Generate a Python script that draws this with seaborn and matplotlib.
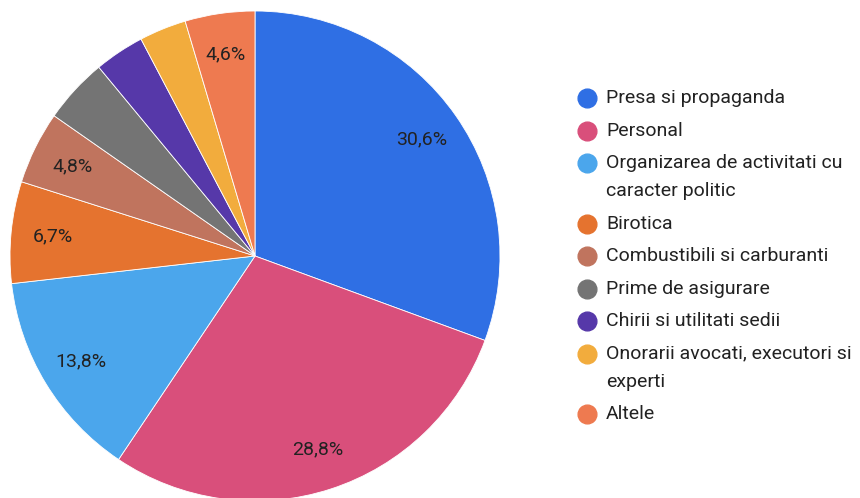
import matplotlib.pyplot as plt
import seaborn as sns

# categories and shares (percent), clockwise from 12 o'clock
categories = [
    "Presa si propaganda",
    "Personal",
    "Organizarea de activitati cu\ncaracter politic",
    "Birotica",
    "Combustibili si carburanti",
    "Prime de asigurare",
    "Chirii si utilitati sedii",
    "Onorarii avocati, executori si\nexperti",
    "Altele",
]
shares = [30.6, 28.8, 13.8, 6.7, 4.8, 4.3, 3.3, 3.1, 4.6]
colors = ["#2f6fe4", "#d94f7b", "#4ba6ec", "#e5732f", "#c0745e",
          "#747474", "#5638a9", "#f2ac3d", "#ee7a50"]

sns.set_theme(style="white")
plt.rcParams["font.family"] = ["Roboto", "DejaVu Sans"]

W, H = 860, 498
fig = plt.figure(figsize=(W / 100, H / 100), dpi=100)

# pie centred at (255, 256) px, radius 245 px
cx, cy, r = 255, 256, 245
ax = fig.add_axes([(cx - r) / W, (H - cy - r) / H, 2 * r / W, 2 * r / H])
palette = sns.color_palette(colors)


def fmt(v):
    # only slices big enough get a label, with a decimal comma
    return f"{v:.1f}%".replace(".", ",") if v >= 4.5 else ""


wedges, texts = ax.pie(
    shares,
    colors=palette,
    startangle=90,
    counterclock=False,
    labels=[fmt(v) for v in shares],
    labeldistance=0.83,
    wedgeprops=dict(edgecolor="white", linewidth=0.6),
    textprops=dict(fontsize=14, color="#222222", ha="center", va="center"),
)
ax.set_xlim(-1, 1)
ax.set_ylim(-1, 1)
ax.set_aspect("equal")

# legend drawn by hand so markers sit on the first line of wrapped labels
lax = fig.add_axes([0, 0, 1, 1])
lax.set_xlim(0, W)
lax.set_ylim(H, 0)
lax.axis("off")
y = 98
for label, col in zip(categories, palette):
    lax.plot(587, y, "o", color=col, markersize=13.5)
    for i, line in enumerate(label.split("\n")):
        lax.text(606, y + 28 * i, line, fontsize=14, color="#222222",
                 va="center")
    y += 32.5 + 28 * label.count("\n")

fig.savefig("out.png", dpi=100)
